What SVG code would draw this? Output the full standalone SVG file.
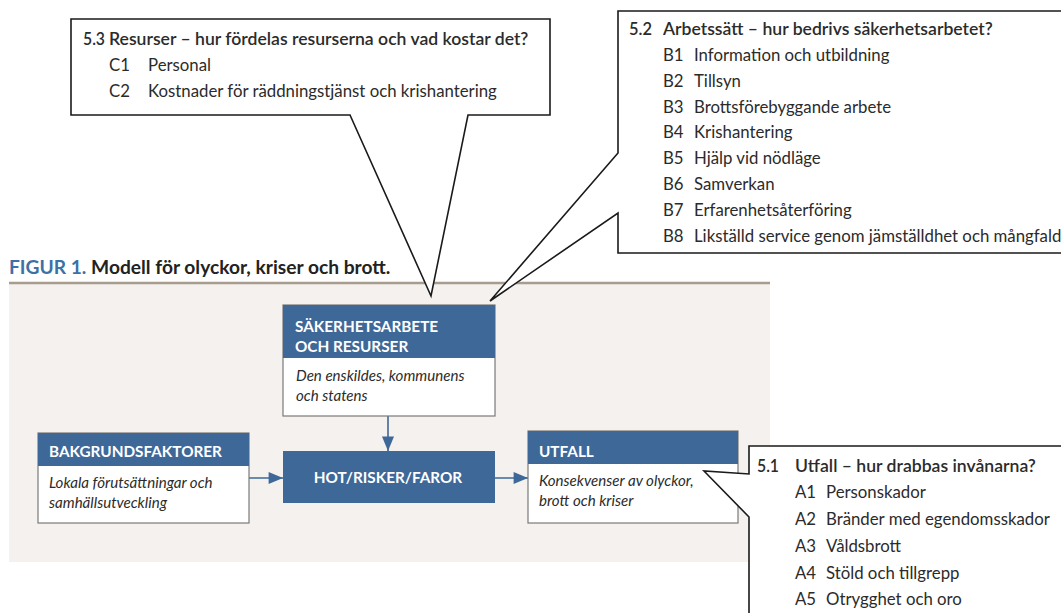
<svg xmlns="http://www.w3.org/2000/svg" width="1061" height="613" viewBox="0 0 1061 613">
<defs>
<style>
.co{fill:#fff;stroke:#1a1a1a;stroke-width:1.6;stroke-linejoin:miter}
.ct{font-family:Lato,"Open Sans",sans-serif;font-size:16.8px;fill:#2b2b2b}
.ch{font-family:Lato,"Open Sans",sans-serif;font-size:17.6px;fill:#2b2b2b;font-weight:600}
.hd{fill:#3e6898}
.bx{fill:#fff;stroke:#7a7a7a;stroke-width:1.2}
.ht{font-family:Lato,"Open Sans",sans-serif;font-size:15.3px;font-weight:700;fill:#fff}
.it{font-family:Lato,"Open Sans",sans-serif;font-size:15.1px;font-style:italic;fill:#2b2b2b}
.cn{stroke:#3e6898;stroke-width:1.6;fill:none}
</style>
<marker id="ah2" viewBox="0 0 12 10" refX="12" refY="5" markerWidth="15" markerHeight="12" markerUnits="userSpaceOnUse" orient="auto">
<path d="M0,0 L12,5 L0,10 z" fill="#3e6898"/>
</marker>
</defs>
<rect width="1061" height="613" fill="#fff"/>

<g id="title">
<text x="9" y="274" font-family="Lato,'Open Sans',sans-serif" font-size="19.2" font-weight="700"><tspan fill="#3e6fa5">FIGUR 1.</tspan><tspan fill="#222"> Modell för olyckor, kriser och brott.</tspan></text>
</g>

<g id="panel">
<rect x="9" y="283" width="761" height="279" fill="#f4f1ee"/>
<line x1="9" y1="283" x2="770" y2="283" stroke="#a89c8e" stroke-width="2.5"/>
</g>

<g id="connectors">
<line class="cn" x1="388" y1="416" x2="388" y2="451" marker-end="url(#ah2)"/>
<line class="cn" x1="249" y1="478" x2="283" y2="478" marker-end="url(#ah2)"/>
<line class="cn" x1="495" y1="478" x2="528" y2="478" marker-end="url(#ah2)"/>
</g>

<g id="sakerhetsarbete">
<rect class="bx" x="283" y="305" width="212" height="111"/>
<rect class="hd" x="283" y="305" width="212" height="53"/>
<text class="ht" x="295" y="332">SÄKERHETSARBETE</text>
<text class="ht" x="295" y="352">OCH RESURSER</text>
<text class="it" x="296" y="381">Den enskildes, kommunens</text>
<text class="it" x="296" y="401">och statens</text>
</g>

<g id="bakgrundsfaktorer">
<rect class="bx" x="38" y="433" width="211" height="90"/>
<rect class="hd" x="38" y="433" width="211" height="33"/>
<text class="ht" x="49" y="457">BAKGRUNDSFAKTORER</text>
<text class="it" x="49" y="488">Lokala förutsättningar och</text>
<text class="it" x="49" y="508">samhällsutveckling</text>
</g>

<g id="hot">
<rect class="hd" x="283" y="451" width="212" height="52"/>
<text class="ht" x="388" y="483" text-anchor="middle" font-size="16.6">HOT/RISKER/FAROR</text>
</g>

<g id="utfall">
<rect class="bx" x="528" y="431" width="210" height="92"/>
<rect class="hd" x="528" y="431" width="210" height="33"/>
<text class="ht" x="539" y="457">UTFALL</text>
<text class="it" x="539" y="486">Konsekvenser av olyckor,</text>
<text class="it" x="539" y="506">brott och kriser</text>
</g>

<g id="callout-53">
<path class="co" d="M71,19 H550 V115 H468 L431,296 L350,115 H71 Z"/>
<text class="ch" x="83" y="45" textLength="22" lengthAdjust="spacingAndGlyphs">5.3</text>
<text class="ch" x="109" y="45">Resurser – hur fördelas resurserna och vad kostar det?</text>
<text class="ct" x="109" y="71">C1</text><text class="ct" x="148" y="71">Personal</text>
<text class="ct" x="109" y="97">C2</text><text class="ct" x="148" y="97">Kostnader för räddningstjänst och krishantering</text>
</g>

<g id="callout-52">
<path class="co" d="M618,11 H1062 V253 H618 V213 L490,301 L618,153 Z"/>
<text class="ch" x="629" y="35" textLength="23" lengthAdjust="spacingAndGlyphs">5.2</text>
<text class="ch" x="663" y="35">Arbetssätt – hur bedrivs säkerhetsarbetet?</text>
<text class="ct" x="663" y="61">B1</text><text class="ct" x="694" y="61">Information och utbildning</text>
<text class="ct" x="663" y="87">B2</text><text class="ct" x="694" y="87">Tillsyn</text>
<text class="ct" x="663" y="113">B3</text><text class="ct" x="694" y="113">Brottsförebyggande arbete</text>
<text class="ct" x="663" y="138">B4</text><text class="ct" x="694" y="138">Krishantering</text>
<text class="ct" x="663" y="164">B5</text><text class="ct" x="694" y="164">Hjälp vid nödläge</text>
<text class="ct" x="663" y="190">B6</text><text class="ct" x="694" y="190">Samverkan</text>
<text class="ct" x="663" y="216">B7</text><text class="ct" x="694" y="216">Erfarenhetsåterföring</text>
<text class="ct" x="663" y="242">B8</text><text class="ct" x="694" y="242">Likställd service genom jämställdhet och mångfald</text>
</g>

<g id="callout-51">
<path class="co" d="M749,446 H1062 V614 H749 V517 L704,471 L749,474 Z"/>
<text class="ch" x="757" y="472" textLength="22" lengthAdjust="spacingAndGlyphs">5.1</text>
<text class="ch" x="795" y="472">Utfall – hur drabbas invånarna?</text>
<text class="ct" x="795" y="498">A1</text><text class="ct" x="826" y="498">Personskador</text>
<text class="ct" x="795" y="525">A2</text><text class="ct" x="826" y="525">Bränder med egendomsskador</text>
<text class="ct" x="795" y="552">A3</text><text class="ct" x="826" y="552">Våldsbrott</text>
<text class="ct" x="795" y="579">A4</text><text class="ct" x="826" y="579">Stöld och tillgrepp</text>
<text class="ct" x="795" y="605">A5</text><text class="ct" x="826" y="605">Otrygghet och oro</text>
</g>
</svg>
